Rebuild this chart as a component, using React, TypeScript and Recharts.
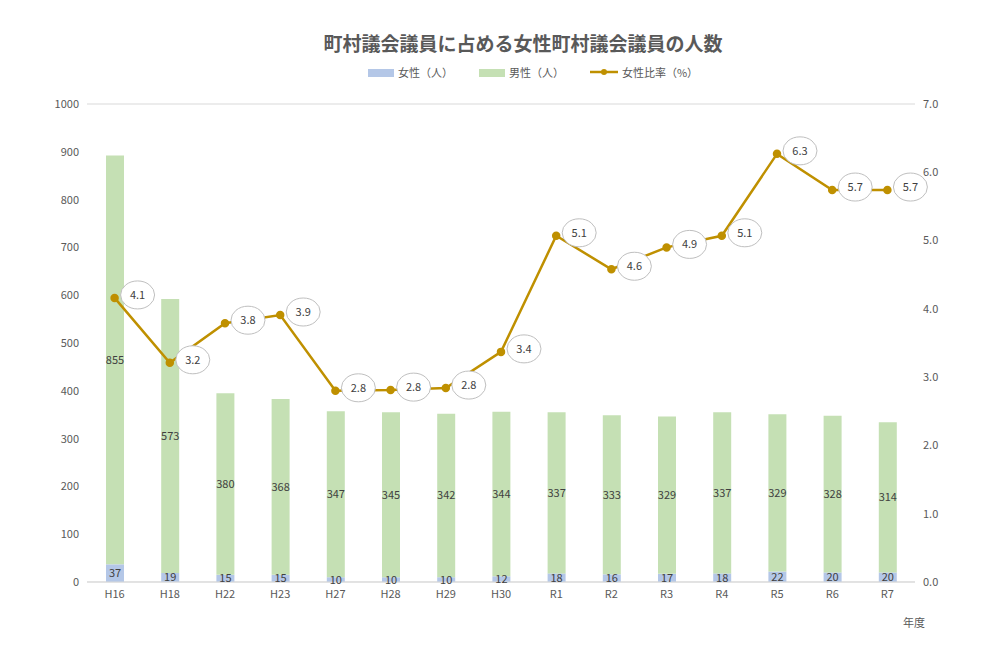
import { ComposedChart, Bar, Line, XAxis, YAxis, CartesianGrid, LabelList } from "recharts";

const years = ["H16", "H18", "H22", "H23", "H27", "H28", "H29", "H30", "R1", "R2", "R3", "R4", "R5", "R6", "R7"];
const female = [37, 19, 15, 15, 10, 10, 10, 12, 18, 16, 17, 18, 22, 20, 20];
const male = [855, 573, 380, 368, 347, 345, 342, 344, 337, 333, 329, 337, 329, 328, 314];
const ratio = [4.16, 3.21, 3.79, 3.91, 2.8, 2.81, 2.84, 3.37, 5.07, 4.58, 4.9, 5.07, 6.27, 5.74, 5.74];
const ratioLabels = ["4.1", "3.2", "3.8", "3.9", "2.8", "2.8", "2.8", "3.4", "5.1", "4.6", "4.9", "5.1", "6.3", "5.7", "5.7"];

const data = years.map((y, i) => ({ year: y, female: female[i], male: male[i], ratio: ratio[i] }));

const FONT = "'Noto Sans CJK JP', 'Noto Sans', sans-serif";
const tick = { fontSize: 11, fill: "#595959", fontFamily: FONT };

const Bubble = (p: any) => {
  const { x, y, index } = p;
  const cx = x + 23, cy = y - 3;
  return (
    <g>
      <ellipse cx={cx} cy={cy} rx={17} ry={14} fill="#fff" stroke="#bfbfbf" />
      <text x={cx} y={cy + 4} textAnchor="middle" fontSize={11} fill="#404040" fontFamily={FONT}>{ratioLabels[index]}</text>
    </g>
  );
};

export default function App() {
  return (
    <div style={{ position: "relative", width: 986, height: 653, margin: "-8px 0 0 -8px", background: "#fff", fontFamily: FONT }}>
      <div style={{ position: "absolute", top: 29, left: 30, width: "100%", textAlign: "center", fontSize: 19, fontWeight: "bold", color: "#595959" }}>
        町村議会議員に占める女性町村議会議員の人数
      </div>
      <div style={{ position: "absolute", top: 64, width: "100%", display: "flex", justifyContent: "center", gap: 26, fontSize: 11, color: "#595959", marginLeft: 40 }}>
        <span><span style={{ display: "inline-block", width: 26, height: 8, background: "#b4c7e7", marginRight: 4 }} />女性（人）</span>
        <span><span style={{ display: "inline-block", width: 26, height: 8, background: "#c5e0b4", marginRight: 4 }} />男性（人）</span>
        <span style={{ display: "inline-flex", alignItems: "center" }}>
          <svg width={28} height={10} style={{ marginRight: 4 }}><line x1={0} y1={5} x2={28} y2={5} stroke="#bf9000" strokeWidth={2.5} /><circle cx={14} cy={5} r={3} fill="#bf9000" /></svg>
          女性比率（%）
        </span>
      </div>
      <div style={{ position: "absolute", left: 903, top: 614, fontSize: 11, color: "#595959" }}>年度</div>
      <ComposedChart width={986} height={653} data={data} margin={{ top: 104, right: 21, left: 30, bottom: 41 }} barCategoryGap="33%">
        <CartesianGrid vertical={false} stroke="#d9d9d9" />
        <XAxis dataKey="year" tick={tick} tickLine={false} axisLine={{ stroke: "#d9d9d9" }} height={30} />
        <YAxis yAxisId="l" domain={[0, 1000]} ticks={[0, 100, 200, 300, 400, 500, 600, 700, 800, 900, 1000]} tick={tick} tickLine={false} axisLine={false} width={57} />
        <YAxis yAxisId="r" orientation="right" domain={[0, 7]} ticks={[0, 1, 2, 3, 4, 5, 6, 7]} tickFormatter={(v) => v.toFixed(1)} tick={tick} tickLine={false} axisLine={false} width={50} />
        <Bar yAxisId="l" dataKey="female" stackId="a" fill="#b4c7e7" barSize={18} isAnimationActive={false}>
          <LabelList dataKey="female" position="center" style={{ fontSize: 11, fill: "#404040", fontFamily: FONT }} />
        </Bar>
        <Bar yAxisId="l" dataKey="male" stackId="a" fill="#c5e0b4" barSize={18} isAnimationActive={false}>
          <LabelList dataKey="male" position="center" style={{ fontSize: 11, fill: "#404040", fontFamily: FONT }} />
        </Bar>
        <Line yAxisId="r" dataKey="ratio" stroke="#bf9000" strokeWidth={2.5} dot={{ r: 3, fill: "#bf9000", stroke: "#bf9000" }} isAnimationActive={false}>
          <LabelList dataKey="ratio" content={Bubble} />
        </Line>
      </ComposedChart>
    </div>
  );
}
